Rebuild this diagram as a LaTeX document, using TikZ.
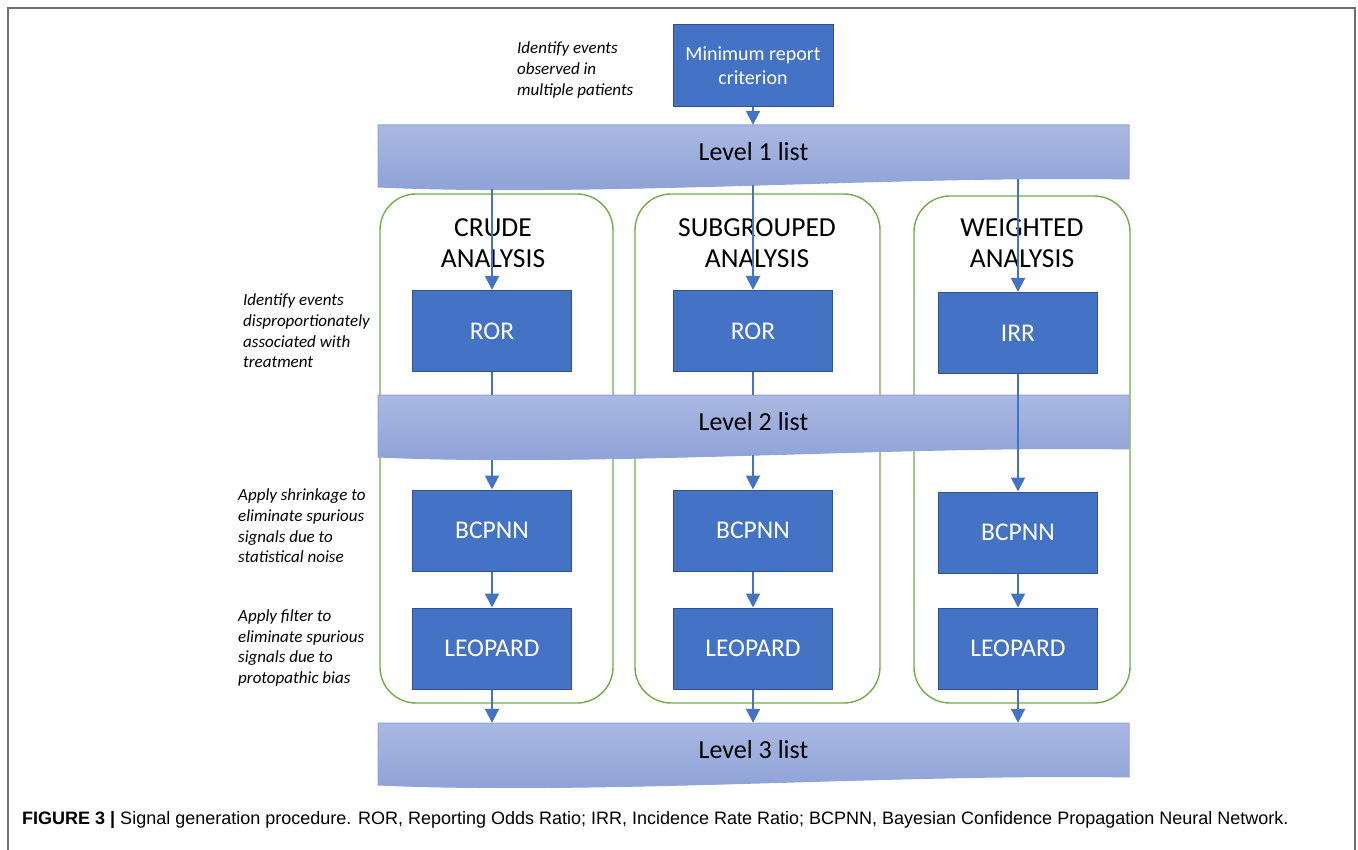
\documentclass[tikz,border=0pt]{standalone}
\usepackage{fontspec}
\setmainfont{Carlito}
\newfontfamily\capfont{Liberation Sans}
\usetikzlibrary{arrows.meta}

\definecolor{boxblue}{HTML}{4472C4}
\definecolor{boxedge}{HTML}{2F528F}
\definecolor{bandtop}{HTML}{AAB9E2}
\definecolor{bandbot}{HTML}{8BA0D6}
\definecolor{bandedge}{HTML}{8EA6DA}
\definecolor{grpgreen}{HTML}{70AD47}
\definecolor{framegray}{HTML}{6E6E6E}

\tikzset{
  stepbox/.style={draw=boxedge, line width=1pt, fill=boxblue, text=white, minimum width=159pt, minimum height=81pt, inner sep=0pt, align=center, font=\fontsize{25.5}{29}\selectfont},
  flow/.style={boxblue, line width=2pt, -{Triangle[width=14pt,length=14pt]}},
  flowline/.style={boxblue, line width=2pt},
  note/.style={anchor=west, align=left, inner sep=0pt, font=\fontsize{17}{20.7}\selectfont\itshape},
  group/.style={draw=grpgreen, line width=1.4pt, rounded corners=36pt},
  title/.style={align=center, inner sep=0pt, font=\fontsize{27.5}{31}\selectfont},
  band/.style={draw=bandedge, line width=1pt, top color=bandtop, bottom color=bandbot},
  bandtext/.style={minimum width=751pt, minimum height=54pt, inner sep=0pt, font=\fontsize{26}{30}\selectfont},
}

% list band: top y, name, label
\def\listband#1#2#3{%
  \shadedraw[band] (378,#1) -- (1129,#1) -- (1129,#1+54) .. controls (900,#1+50) and (600,#1+72) .. (378,#1+62) -- cycle;
  \node[bandtext] (#2) at (753.5,#1+27) {#3};
  \coordinate (#2 crude) at (\xa,#1+64.5);
  \coordinate (#2 sub) at (\xb,#1+60);
  \coordinate (#2 wtd) at (\xc,#1+54.5);
}

\begin{document}
\begin{tikzpicture}[x=1pt,y=-1pt]
  \def\xa{492}
  \def\xb{753}
  \def\xc{1018}
  \useasboundingbox (0,0) rectangle (1358,850);

  % frame
  \draw[framegray, line width=2pt] (8,851) -- (8,8) -- (1355,8) -- (1355,851);

  % analysis groups
  \draw[group] (380,194) rectangle (613,703);
  \draw[group] (635,194) rectangle (880,703);
  \draw[group] (914,196) rectangle (1130,703);

  \node[title] (crudetitle) at (493,243) {CRUDE\\ANALYSIS};
  \node[title] (subtitle) at (757,243) {SUBGROUPED\\ANALYSIS};
  \node[title] (wtdtitle) at (1022,243) {WEIGHTED\\ANALYSIS};

  % side notes
  \node[note] (noteone) at (517,70) {Identify events\\observed in\\multiple patients};
  \node[note] (notetwo) at (243,331) {Identify events\\disproportionately\\associated with\\treatment};
  \node[note] (notethree) at (238,526) {Apply shrinkage to\\eliminate spurious\\signals due to\\statistical noise};
  \node[note] (notefour) at (238,648) {Apply filter to\\eliminate spurious\\signals due to\\protopathic bias};

  \node[stepbox, minimum width=160pt, minimum height=82pt, font=\fontsize{20}{24}\selectfont] (minrep) at (753,66) {Minimum report\\criterion};

  \listband{125}{lvlone}{Level 1 list}

  \node[stepbox] (crudeRor) at (\xa,331) {ROR};
  \node[stepbox] (subRor) at (\xb,331) {ROR};
  \node[stepbox] (wtdIrr) at (\xc,333) {IRR};

  \listband{395}{lvltwo}{Level 2 list}

  \node[stepbox] (crudeBcpnn) at (\xa,530.5) {BCPNN};
  \node[stepbox] (subBcpnn) at (\xb,530.5) {BCPNN};
  \node[stepbox] (wtdBcpnn) at (\xc,532.5) {BCPNN};

  \node[stepbox] (crudeLeopard) at (\xa,648.5) {LEOPARD};
  \node[stepbox] (subLeopard) at (\xb,648.5) {LEOPARD};
  \node[stepbox] (wtdLeopard) at (\xc,648.5) {LEOPARD};

  \listband{723}{lvlthree}{Level 3 list}

  % arrows
  \draw[flow] (minrep) -- (minrep.south |- lvlone.north);

  \draw[flow] (lvlone crude) -- (crudeRor);
  \draw[flow] (lvlone sub) -- (subRor);
  \draw[flow] (lvlone wtd) -- (wtdIrr);

  \draw[flowline] (crudeRor) -- (crudeRor.south |- lvltwo.north);
  \draw[flowline] (subRor) -- (subRor.south |- lvltwo.north);
  \draw[flow] (lvltwo crude) -- (crudeBcpnn);
  \draw[flow] (lvltwo sub) -- (subBcpnn);
  \draw[flow] (wtdIrr) -- (wtdBcpnn);

  \draw[flow] (crudeBcpnn) -- (crudeLeopard);
  \draw[flow] (subBcpnn) -- (subLeopard);
  \draw[flow] (wtdBcpnn) -- (wtdLeopard);

  \draw[flow] (crudeLeopard) -- (crudeLeopard.south |- lvlthree.north);
  \draw[flow] (subLeopard) -- (subLeopard.south |- lvlthree.north);
  \draw[flow] (wtdLeopard) -- (wtdLeopard.south |- lvlthree.north);

  % caption
  \node[anchor=west, inner sep=0pt, font=\capfont\fontsize{18}{22}\selectfont] (caption) at (22,820) {\textbf{FIGURE 3 |} Signal generation procedure. ROR, Reporting Odds Ratio; IRR, Incidence Rate Ratio; BCPNN, Bayesian Confidence Propagation Neural Network.};
\end{tikzpicture}
\end{document}
